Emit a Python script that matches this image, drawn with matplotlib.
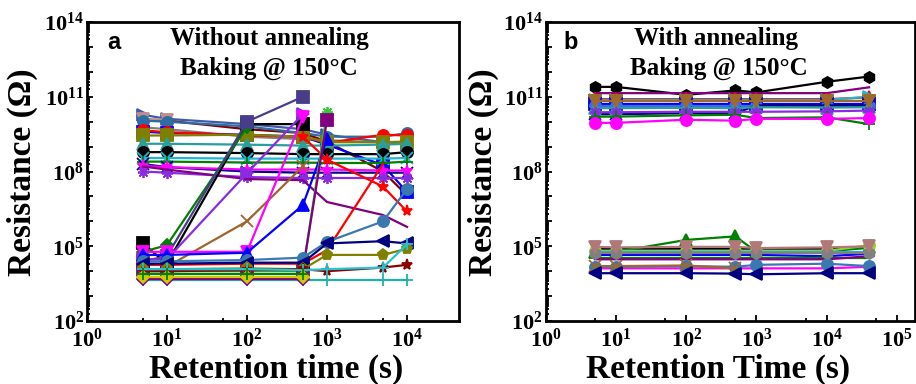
import numpy as np
import matplotlib
matplotlib.use('Agg')
import matplotlib.pyplot as plt
from matplotlib.ticker import LogLocator, FuncFormatter, NullFormatter

plt.rcParams['font.family'] = 'Liberation Serif'
plt.rcParams['font.weight'] = 'bold'
plt.rcParams['mathtext.fontset'] = 'custom'
plt.rcParams['mathtext.rm'] = 'Liberation Serif:bold'
plt.rcParams['mathtext.it'] = 'Liberation Serif:bold'
plt.rcParams['mathtext.bf'] = 'Liberation Serif:bold'

# ---- data -------------------------------------------------------------------
# retention times (s)
t_a = [5, 10, 100, 500, 1000, 5000, 10000]
t_b = [5, 10, 100, 500, 1000, 10000, 40000]

# panel a: without annealing (None = no point at that time)
# (color, marker, resistance values)
series_a = [
    ('#3f5ba9', '>', [1.9e10, 1.3e10, 8e9, 5e9, 3e9, 1.5e9, 1.2e9]),
    ('#800000', 'None', [1.2e10, 1.1e10, 5e9, 3.5e9, 1.6e9, 1.0e8, 1.1e7]),
    ('#bc8f8f', 'v', [1.3e10, 1.2e10, None, None, None, None, None]),
    ('#808080', 'None', [6e9, 5e9, 2.5e9, 2.0e9, 1.8e9, 1.5e9, 1.5e9]),
    ('#2e6da4', 'o', [1.1e10, 1.0e10, 6.5e9, 3.5e9, 2.5e9, 2.5e9, 3.5e9]),
    ('#0000ff', 's', [4e9, 3.5e9, 3e9, 2.5e9, 1.2e9, 1.8e8, 1.5e7]),
    ('#ff0000', 'o', [4.5e9, 3.8e9, 2.8e9, 2.5e9, 1.4e9, 3e9, 2.8e9]),
    ('#808000', 's', [2.8e9, 2.8e9, 3e9, 2.5e9, 1.5e9, 1.5e9, 1.6e9]),
    ('#2a9d9d', '^', [1.3e9, 1.3e9, 1.2e9, 1.1e9, 1.1e9, 1.2e9, 1.3e9]),
    ('#000000', 'o', [6e8, 6e8, 5.5e8, 5e8, 5e8, 5e8, 6e8]),
    ('#1fb5d6', 'x', [3.5e8, 3.5e8, 3.3e8, 3.3e8, 3.3e8, 3.3e8, 3.5e8]),
    ('#008000', '+', [2.5e8, 2.5e8, 2.3e8, 2.3e8, 2.2e8, 2.2e8, 2.5e8]),
    ('#000080', 'x', [2.0e8, 1.5e8, 1.0e8, 9e7, 9e7, 9e7, 9e7]),
    ('#ff00ff', '*', [1.7e8, 1.5e8, 1.2e8, 1.2e8, 1.2e8, 1.1e8, 1.1e8]),
    ('#8a2be2', (8, 2, 0), [1.0e8, 9e7, 6e7, 5.5e7, 5.5e7, 5.5e7, 5.5e7]),
    ('#800080', 'None', [1.6e8, 1.2e8, 5e7, 4.5e7, 6e6, 1.8e6, 6e5]),
    ('#ff0000', '*', [None, None, None, 2.5e9, 3e8, 2.5e7, 2.5e6]),
    ('#000000', 's', [1.3e5, 2e4, 8e9, 8e9, None, None, None]),
    ('#008000', 'D', [6e4, 1.1e5, 6e9, None, None, None, None]),
    ('#483d8b', 's', [2.5e4, 4e4, 1.0e10, 1.0e11, None, None, None]),
    ('#8a2be2', '>', [3e4, 3e4, 8.5e7, 2e10, None, None, None]),
    ('#a0642d', 'x', [None, 1.5e4, 1e6, 1.6e8, None, None, None]),
    ('#ff00ff', 'v', [6e4, 6e4, 6e4, 1.5e10, None, None, None]),
    ('#0000ff', '^', [4.5e4, 4.5e4, 5.5e4, 4.5e6, 2e9, None, None]),
    ('#33cc33', (8, 2, 0), [1.0e4, 1.0e4, 1.0e4, 1.0e4, 2.5e10, None, None]),
    ('#800080', 's', [1.1e4, 1.1e4, 1.1e4, 1.1e4, 1.2e10, None, None]),
    ('#ff0000', 'None', [1.8e4, 1.8e4, 2e4, 2e4, 7e4, 2e8, None]),
    ('#3a78b0', 'o', [2.5e4, 2.5e4, 2.8e4, 3.5e4, 1.5e5, 1e6, 2e7]),
    ('#000080', '<', [2e4, 2e4, 2.2e4, 2.2e4, 1.3e5, 1.6e5, 1.3e5]),
    ('#808000', 'p', [1.2e4, 1.2e4, 1.3e4, 1.2e4, 4.5e4, 4.5e4, 8e4]),
    ('#8b0000', '*', [1e4, 1e4, 1.1e4, 1.2e4, 1.0e4, 1.4e4, 1.8e4]),
    ('#22c5d0', '+', [1.2e4, 1.2e4, 1.2e4, 1.1e4, 1.2e4, 1.4e4, 1.2e5]),
    ('#20b2aa', '+', [4.5e3, 4.5e3, 4.5e3, 4.5e3, 4.5e3, 4.5e3, 4.5e3]),
    ('#800080', 'D', [5e3, 5e3, 5e3, 5e3, None, None, None]),
    ('#cccc00', 'D', [6e3, 6e3, 6e3, 6e3, None, None, None]),
    ('#008000', '+', [8e3, 8e3, 8e3, 8e3, None, None, None]),
]

# panel b: with annealing
series_b = [
    ('#000000', 'h', [2.5e11, 2.5e11, 1.2e11, 1.8e11, 1.5e11, 4e11, 6.5e11]),
    ('#800080', 'None', [1.4e11, 1.4e11, 1.4e11, 1.4e11, 1.4e11, 1.4e11, 2.4e11]),
    ('#ff0000', '^', [8e10, 8e10, 8e10, 8e10, 8e10, 8e10, 9.5e10]),
    ('#1fb5d6', '>', [7.5e10, 7.5e10, 7.5e10, 7.5e10, 7.5e10, 7.5e10, 1.0e11]),
    ('#808000', 's', [6.5e10, 6.5e10, 6.5e10, 6.5e10, 6.5e10, 6.5e10, 6.5e10]),
    ('#0000ff', 's', [5e10, 5e10, 5e10, 5e10, 5e10, 5e10, 5e10]),
    ('#4169e1', 'o', [4.2e10, 4.2e10, 4.2e10, 4.2e10, 4.2e10, 4.2e10, 4.2e10]),
    ('#000080', 'x', [2e10, 2e10, 2.2e10, 2.2e10, 4.5e10, 4.5e10, 4.5e10]),
    ('#2a9d9d', '^', [3.5e10, 3.5e10, 3.6e10, 3.5e10, 3.8e10, 3.7e10, 3.8e10]),
    ('#8a2be2', (8, 2, 0), [2.4e10, 2.4e10, 2.5e10, 2.5e10, 2.5e10, 2.6e10, 2.8e10]),
    ('#008000', '+', [1.6e10, 1.6e10, 1.8e10, 1.9e10, 1.4e10, 1.5e10, 8e9]),
    ('#ff00ff', 'o', [9e9, 9e9, 1.2e10, 1.1e10, 1.3e10, 1.3e10, 1.4e10]),
    ('#a0692c', 'v', [7e10, 7e10, 7e10, 7e10, 7e10, 7e10, 7e10]),
    # low resistance group
    ('#000000', 'None', [8e4, 8e4, 8e4, 8e4, 8e4, 8e4, 8.5e4]),
    ('#008000', '^', [6e4, 6e4, 1.8e5, 2.5e5, 6e4, 6e4, 9e4]),
    ('#9acd32', 'o', [6.5e4, 6.5e4, 6.5e4, 6.5e4, 6.5e4, 6.5e4, 1.1e5]),
    ('#1fb5d6', 'None', [6e4, 6e4, 6e4, 6e4, 6e4, 6e4, 6e4]),
    ('#0000ff', 'None', [4.5e4, 4.5e4, 4.5e4, 4.5e4, 4.5e4, 4e4, 5e4]),
    ('#008000', 'None', [3.5e4, 3.5e4, 3.5e4, 3.5e4, 3.5e4, 3.5e4, 3.5e4]),
    ('#800080', 'None', [3e4, 3e4, 3e4, 3e4, 3e4, 3e4, 4e4]),
    ('#ff00ff', 'None', [1.3e4, 1.3e4, 1.3e4, 1.3e4, 1.3e4, 1.3e4, 1.5e4]),
    ('#3a78b0', 'o', [1.5e4, 1.5e4, 1.6e4, 1.5e4, 1.8e4, 2e4, 1.6e4]),
    ('#a0692c', 'x', [1.6e4, 1.6e4, 1.7e4, 1.3e4, None, None, None]),
    ('#000080', '<', [8.3e3, 8.3e3, 8.3e3, 8e3, 7.5e3, 8.3e3, 8.3e3]),
    ('#808080', 'h', [5.3e4, 5.3e4, 5.3e4, 5.3e4, 5.3e4, 5.3e4, 5.3e4]),
    ('#b07878', 'v', [9.5e4, 9e4, 9.5e4, 9.5e4, 8.5e4, 9e4, 1.0e5]),
]

xlim_a = (1, 4.5e4)
xlim_b = (1, 1.8e5)
ylim = (1e2, 1e14)

# ---- figure -----------------------------------------------------------------
fig = plt.figure(figsize=(9.16, 3.84), dpi=100)
ax_a = fig.add_axes([0.0947, 0.164, 0.4068, 0.7786])
ax_b = fig.add_axes([0.5957, 0.164, 0.4032, 0.7786])


def draw(ax, t, series):
    for color, marker, vals in series:
        x = [ti for ti, v in zip(t, vals) if v is not None]
        y = [v for v in vals if v is not None]
        ms = 6.5 if marker == 'D' else 8
        ax.plot(x, y, color=color, marker=marker, ms=ms, lw=1.6,
                mec=color, mew=1.3)


def y_label_fmt(v, pos):
    e = int(round(np.log10(v)))
    if (e - 2) % 3 == 0:
        return r'$10^{%d}$' % e
    return ''


def style(ax, xlim):
    ax.set_xscale('log')
    ax.set_yscale('log')
    ax.set_xlim(*xlim)
    ax.set_ylim(*ylim)
    ax.xaxis.set_major_locator(LogLocator(base=10, numticks=20))
    ax.xaxis.set_minor_locator(LogLocator(base=10, subs=(5.0,), numticks=20))
    ax.xaxis.set_major_formatter(FuncFormatter(
        lambda v, p: r'$10^{%d}$' % int(round(np.log10(v)))))
    ax.xaxis.set_minor_formatter(NullFormatter())
    ax.yaxis.set_major_locator(LogLocator(base=10, numticks=20))
    ax.yaxis.set_minor_locator(LogLocator(base=10, subs=np.arange(2, 10), numticks=20))
    ax.yaxis.set_major_formatter(FuncFormatter(y_label_fmt))
    ax.yaxis.set_minor_formatter(NullFormatter())
    ax.tick_params(which='both', direction='in', top=False, right=False,
                   labelsize=16, width=1.3)
    ax.tick_params(which='major', length=4.5)
    ax.tick_params(which='minor', length=2.5)
    ax.tick_params(axis='y', pad=2)
    ax.tick_params(axis='x', pad=5.5)
    for s in ax.spines.values():
        s.set_linewidth(2.0)


draw(ax_a, t_a, series_a)
draw(ax_b, t_b, series_b)
style(ax_a, xlim_a)
style(ax_b, xlim_b)

# panel texts
ax_a.text(0.073, 0.93, 'a', transform=ax_a.transAxes, ha='center', va='center',
          fontsize=17, fontweight='bold', family='Liberation Sans')
ax_a.text(0.49, 0.946, 'Without annealing', transform=ax_a.transAxes,
          ha='center', va='center', fontsize=18, fontweight='bold')
ax_a.text(0.49, 0.846, 'Baking @ 150°C', transform=ax_a.transAxes,
          ha='center', va='center', fontsize=18, fontweight='bold')

ax_b.text(0.068, 0.93, 'b', transform=ax_b.transAxes, ha='center', va='center',
          fontsize=17, fontweight='bold', family='Liberation Sans')
ax_b.text(0.462, 0.946, 'With annealing', transform=ax_b.transAxes,
          ha='center', va='center', fontsize=18, fontweight='bold')
ax_b.text(0.468, 0.846, 'Baking @ 150°C', transform=ax_b.transAxes,
          ha='center', va='center', fontsize=18, fontweight='bold')

# axis labels
fig.text(22 / 916, 1 - 172 / 384, 'Resistance (Ω)', rotation=90,
         ha='center', va='center', fontsize=24, fontweight='bold')
fig.text(483 / 916, 1 - 172 / 384, 'Resistance (Ω)', rotation=90,
         ha='center', va='center', fontsize=24, fontweight='bold')
fig.text(276 / 916, 1 - 369 / 384, 'Retention time (s)',
         ha='center', va='center', fontsize=24, fontweight='bold')
fig.text(718 / 916, 1 - 369 / 384, 'Retention Time (s)',
         ha='center', va='center', fontsize=24, fontweight='bold')

fig.savefig('out.png', dpi=100)
